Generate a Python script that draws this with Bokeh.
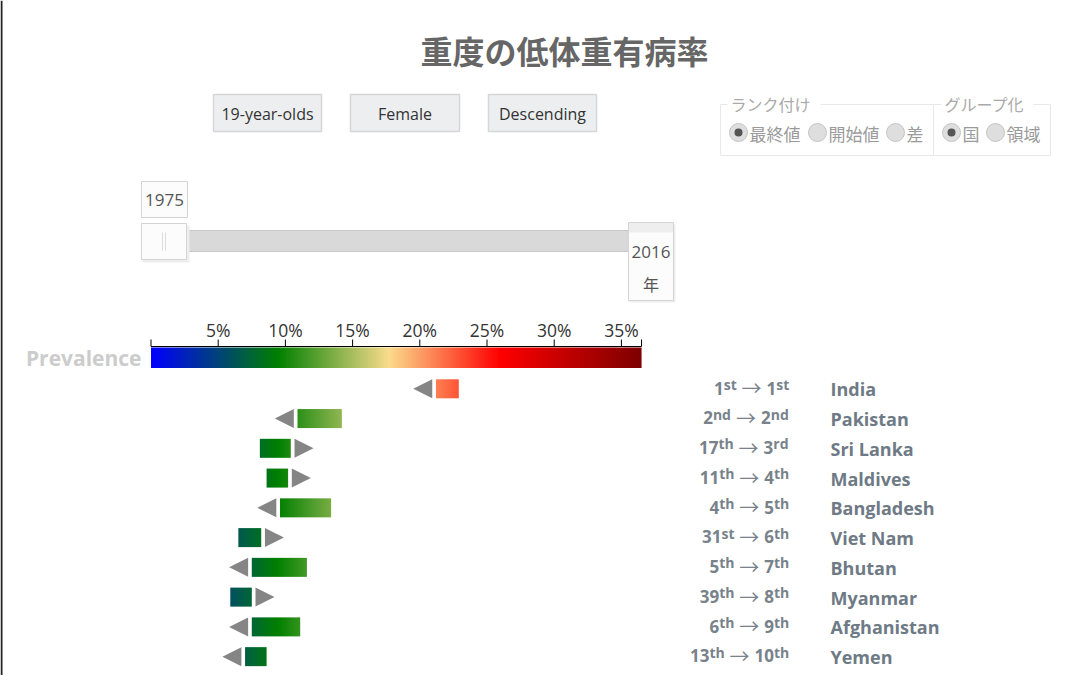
import numpy as np
from bokeh.plotting import figure
from bokeh.models import Range1d
from bokeh.core.properties import value
from bokeh.embed import file_html
from bokeh.resources import INLINE

# ---------------- data ----------------
title = "重度の低体重有病率"
countries = ["India", "Pakistan", "Sri Lanka", "Maldives", "Bangladesh",
             "Viet Nam", "Bhutan", "Myanmar", "Afghanistan", "Yemen"]
prev_1975 = [22.9, 14.2, 8.1, 8.6, 13.4, 6.5, 11.6, 5.9, 11.1, 8.6]
prev_2016 = [21.2, 10.9, 10.4, 10.2, 9.6, 8.2, 7.5, 7.5, 7.5, 7.0]
rank_1975 = [1, 2, 17, 11, 4, 31, 5, 39, 6, 13]
rank_2016 = [1, 2, 3, 4, 5, 6, 7, 8, 9, 10]
tick_values = [5, 10, 15, 20, 25, 30, 35]
tick_labels = ["5%", "10%", "15%", "20%", "25%", "30%", "35%"]
scale_max = 36.5
cmap_stops = [0.0, 9.4, 17.7, 26.0, 36.5]
cmap_colors = ["#0000ff", "#008000", "#fadc8c", "#ff0000", "#7d0000"]
year_start, year_end, year_unit = "1975", "2016", "年"
buttons = ["19-year-olds", "Female", "Descending"]
rank_legend, group_legend = "ランク付け", "グループ化"
rank_options = ["最終値", "開始値", "差"]
group_options = ["国", "領域"]
scale_label = "Prevalence"

# ---------------- layout (page pixels) ----------------
W, H, M = 1080, 675, 0
X0_PX, PX_PER_PCT = 150.5, 13.44          # page x of 0 %, pixels per 1 %
ROW0_PX, ROW_PX = 388.3, 29.76            # page y of first row, row pitch
BAR_HALF = 9.5 / ROW_PX
ARROW_W = 19 / PX_PER_PCT
ARROW_GAP = 3.7 / PX_PER_PCT

FONT = value("Open Sans")
CJK = value("Noto Sans CJK JP")

p = figure(width=W, height=H, output_backend="svg", toolbar_location=None, tools="",
           x_range=Range1d(M, M + W), y_range=Range1d(M + H, M),
           x_axis_location=None, y_axis_location=None, min_border=0,
           outline_line_color=None, background_fill_color="white")
p.grid.visible = False
p.extra_x_ranges = {"pct": Range1d((M - X0_PX) / PX_PER_PCT, (M + W - X0_PX) / PX_PER_PCT)}
p.extra_y_ranges = {"row": Range1d((M + H - ROW0_PX) / ROW_PX, (M - ROW0_PX) / ROW_PX)}


def hex2rgb(h):
    return tuple(int(h[i:i + 2], 16) for i in (1, 3, 5))


def cmap_rgb(v):
    v = min(max(v, cmap_stops[0]), cmap_stops[-1])
    for k in range(len(cmap_stops) - 1):
        a, b = cmap_stops[k], cmap_stops[k + 1]
        if v <= b:
            t = (v - a) / (b - a)
            c0, c1 = hex2rgb(cmap_colors[k]), hex2rgb(cmap_colors[k + 1])
            return tuple(int(round(c0[j] + (c1[j] - c0[j]) * t)) for j in range(3))
    return hex2rgb(cmap_colors[-1])


def gradient_image(lo, hi, n):
    """1 x n RGBA image whose columns follow the colour scale from lo to hi."""
    vals = np.linspace(lo, hi, n)
    img = np.zeros((1, n), dtype=np.uint32)
    view = img.view(dtype=np.uint8).reshape((1, n, 4))
    for k, v in enumerate(vals):
        r, g, b = cmap_rgb(v)
        view[0, k] = (r, g, b, 255)
    return img


# page border on the left
p.quad(left=[0], right=[2], top=[0], bottom=[675], fill_color="#222222", line_color=None)

# ---------------- header ----------------
p.text(x=[564], y=[49], text=[title], text_align="center", text_baseline="middle",
       text_font=CJK, text_font_style="bold", text_font_size="32px", text_color="#666666")

btn_left = [213, 350, 488]
btn_right = [321, 459, 596]
p.quad(left=btn_left, right=btn_right, top=[94] * 3, bottom=[131] * 3,
       fill_color="#eceef0", line_color="#d6d6d6", line_width=1.5)
p.text(x=[(a + b) / 2 for a, b in zip(btn_left, btn_right)], y=[113] * 3, text=buttons,
       text_align="center", text_baseline="middle", text_font=FONT,
       text_font_size="16px", text_color="#333333")

# fieldsets
p.quad(left=[720, 933], right=[933, 1050], top=[104, 104], bottom=[155, 155],
       fill_color=None, line_color="#e8e8e8", line_width=1)
p.quad(left=[727, 941], right=[820, 1033], top=[95, 95], bottom=[112, 112],
       fill_color="white", line_color=None)
p.text(x=[730, 944], y=[103, 103], text=[rank_legend, group_legend], text_align="left",
       text_baseline="middle", text_font=CJK, text_font_size="16px", text_color="#aaaaaa")
opt_x = [749, 828, 906, 962, 1006]
opt_txt = rank_options + group_options
p.scatter(x=[x - 11 for x in opt_x], y=[132] * 5, size=18, marker="circle",
          fill_color="#dedede", line_color="#c4c4c4", line_width=1)
p.scatter(x=[opt_x[0] - 11, opt_x[3] - 11], y=[132, 132], size=8, marker="circle",
          fill_color="#555555", line_color=None)
p.text(x=opt_x, y=[133] * 5, text=opt_txt, text_align="left", text_baseline="middle",
       text_font=CJK, text_font_size="17px", text_color="#9a9a9a")

# slider
p.quad(left=[150], right=[645], top=[230], bottom=[251], fill_color="#d9d9d9",
       line_color="#c9c9c9", line_width=1)
p.quad(left=[142, 629], right=[189, 675], top=[225, 224], bottom=[262, 302],
       fill_color="#eeeeee", line_color=None)
p.quad(left=[141, 628, 141], right=[186, 673, 187], top=[223, 222, 181], bottom=[259, 300, 217],
       fill_color="#fcfcfc", line_color="#d4d4d4", line_width=1)
p.quad(left=[628.5], right=[672.5], top=[222.5], bottom=[232], fill_color="#eeeeee", line_color=None)
p.segment(x0=[162, 165], x1=[162, 165], y0=[232, 232], y1=[250, 250], line_color="#dcdcdc", line_width=1)
p.text(x=[164, 650.5], y=[199, 251], text=[year_start, year_end], text_align="center",
       text_baseline="middle", text_font=FONT, text_font_size="17px", text_color="#555555")
p.text(x=[650.5], y=[283], text=[year_unit], text_align="center", text_baseline="middle",
       text_font=CJK, text_font_size="16px", text_color="#555555")

# ---------------- colour scale ----------------
# (y axis is flipped, so an image's anchor value is its visual top edge)
p.image_rgba(image=[gradient_image(0, scale_max, 490)], x=0, y=347, dw=scale_max, dh=20.5,
             x_range_name="pct")
p.segment(x0=[0], x1=[scale_max], y0=[346], y1=[346], line_color="#000000", line_width=1,
          x_range_name="pct")
p.segment(x0=[0] + tick_values + [scale_max], x1=[0] + tick_values + [scale_max],
          y0=[346] * (len(tick_values) + 2), y1=[339] * (len(tick_values) + 2),
          line_color="#000000", line_width=1, x_range_name="pct")
p.text(x=tick_values, y=[329] * len(tick_values), text=tick_labels, text_align="center",
       text_baseline="middle", text_font=FONT, text_font_size="17.5px", text_color="#333333",
       x_range_name="pct")
p.text(x=[141], y=[357], text=[scale_label], text_align="right", text_baseline="middle",
       text_font=FONT, text_font_style="bold", text_font_size="21px", text_color="#cccccc")

# ---------------- bars (gradient) + direction arrows ----------------
imgs, ix, iy, idw, idh = [], [], [], [], []
axs, ays = [], []
for i, (a, b) in enumerate(zip(prev_1975, prev_2016)):
    lo, hi = min(a, b), max(a, b)
    n = max(2, int(round((hi - lo) * PX_PER_PCT)))
    imgs.append(gradient_image(lo, hi, n))
    ix.append(lo); iy.append(i - BAR_HALF); idw.append(hi - lo); idh.append(2 * BAR_HALF)
    if b < a:   # decreased: arrow pointing left at the 2016 value
        base = lo - ARROW_GAP
        axs.append([base, base, base - ARROW_W])
    else:
        base = hi + ARROW_GAP
        axs.append([base, base, base + ARROW_W])
    ays.append([i - BAR_HALF, i + BAR_HALF, i])
p.image_rgba(image=imgs, x=ix, y=iy, dw=idw, dh=idh, x_range_name="pct", y_range_name="row")
p.patches(xs=axs, ys=ays, fill_color="#858585", line_color=None,
          x_range_name="pct", y_range_name="row")

# ---------------- rank labels + names ----------------
CHAR_W = {"s": 0.49, "t": 0.42, "n": 0.656, "d": 0.644, "r": 0.475, "h": 0.656}


def tw(s, size):
    return sum(CHAR_W.get(c, 0.572) for c in s) * size


def suffix(n):
    if 11 <= n % 100 <= 13:
        return "th"
    return {1: "st", 2: "nd", 3: "rd"}.get(n % 10, "th")


R_EDGE, NUM_FS, SUP_FS, SP, AW = 788.5, 17, 14, 5, 20
num_x, num_y, num_t = [], [], []
sup_x, sup_y, sup_t = [], [], []
arr_x, arr_y = [], []
for i, (a, b) in enumerate(zip(rank_1975, rank_2016)):
    bsup_x = R_EDGE - tw(suffix(b), SUP_FS)
    bnum_x = bsup_x - tw(str(b), NUM_FS)
    ax = bnum_x - SP - AW / 2
    asup_x = ax - AW / 2 - SP - tw(suffix(a), SUP_FS)
    anum_x = asup_x - tw(str(a), NUM_FS)
    num_x += [anum_x, bnum_x]; num_t += [str(a), str(b)]
    num_y += [i - 0.8 / ROW_PX] * 2
    sup_x += [asup_x, bsup_x]; sup_t += [suffix(a), suffix(b)]
    sup_y += [i - 4.5 / ROW_PX] * 2
    arr_x.append(ax); arr_y.append(i - 1.0 / ROW_PX)

p.text(x=num_x, y=num_y, text=num_t, text_align="left", text_baseline="middle",
       text_font=FONT, text_font_style="bold", text_font_size=f"{NUM_FS}px",
       text_color="#78828b", y_range_name="row")
p.text(x=sup_x, y=sup_y, text=sup_t, text_align="left", text_baseline="middle",
       text_font=FONT, text_font_style="bold", text_font_size=f"{SUP_FS}px",
       text_color="#78828b", y_range_name="row")
p.text(x=arr_x, y=arr_y, text=["→"] * len(arr_x), text_align="center", text_baseline="middle",
       text_font=CJK, text_font_size=f"{AW}px", text_color="#78828b", y_range_name="row")
p.text(x=[830] * len(countries), y=[i + 0.5 / ROW_PX for i in range(len(countries))],
       text=countries, text_align="left", text_baseline="middle", text_font=FONT,
       text_font_style="bold", text_font_size="18px", text_color="#6e7a85", y_range_name="row")

open("out.html", "w").write(file_html(p, INLINE))
